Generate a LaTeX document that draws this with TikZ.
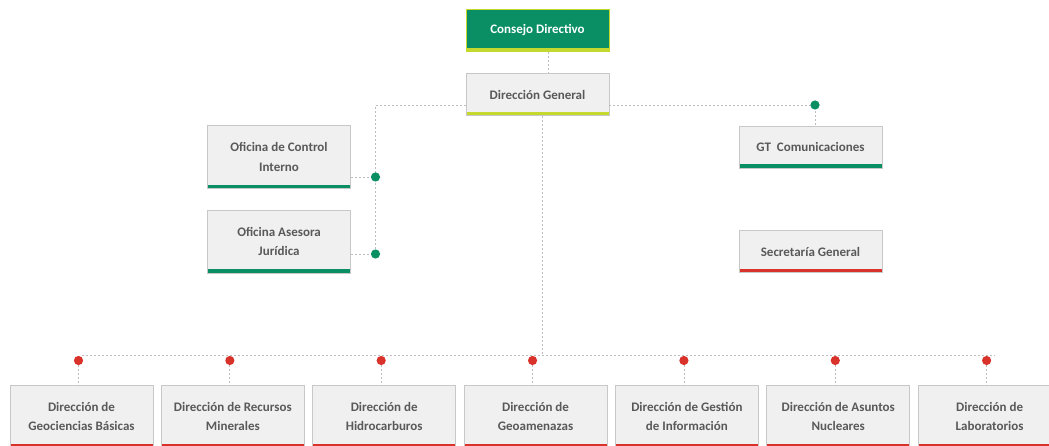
\documentclass[tikz,border=0pt]{standalone}
\usepackage{fontspec}
\setmainfont{Carlito}
\definecolor{sggreen}{HTML}{0A8F64}
\definecolor{sglime}{HTML}{C5D82E}
\definecolor{sgred}{HTML}{D9322A}
\definecolor{boxfill}{HTML}{F0F0F0}
\definecolor{boxline}{HTML}{C8C8C8}
\definecolor{textgray}{HTML}{595959}
\definecolor{linegray}{HTML}{BDBDBD}
\tikzset{
  unit/.style={draw=boxline, fill=boxfill, line width=0.8pt, minimum width=143pt, minimum height=42pt,
    inner sep=2pt, align=center, text=textgray, font=\bfseries\fontsize{13}{19.5}\selectfont,
    path picture={\fill[#1] ([yshift=3.6pt]path picture bounding box.south west) rectangle (path picture bounding box.south east);}},
  tall/.style={minimum height=63pt},
  link/.style={draw=linegray, line width=0.8pt, dash pattern=on 2pt off 2pt},
}
\begin{document}
\begin{tikzpicture}[x=1pt,y=-1pt]
			\useasboundingbox (0,0) rectangle (1049,446);
			% top of the chart
			\node[unit=sglime, fill=sggreen, draw=sglime, text=white] (consejo) at (537.5,30.5) {Consejo Directivo};
			\node[unit=sglime] (general) at (537.5,94.5) {Dirección General};
			\node[unit=sggreen, tall] (control) at (279,157) {Oficina de Control\\Interno};
			\node[unit=sggreen, tall] (juridica) at (279,241.5) {Oficina Asesora\\Jurídica};
			\node[unit=sggreen] (comunica) at (810.5,147) {GT\ \ Comunicaciones};
			\node[unit=sgred] (secretaria) at (810.5,251.5) {Secretaría General};
			% directions
			\node[unit=sgred, tall, minimum height=62pt] (geociencias) at (81.5,416.5) {Dirección de\\Geociencias Básicas};
			\node[unit=sgred, tall, minimum height=62pt] (recursos) at (232.85,416.5) {Dirección de Recursos\\Minerales};
			\node[unit=sgred, tall, minimum height=62pt] (hidrocarburos) at (384.2,416.5) {Dirección de\\Hidrocarburos};
			\node[unit=sgred, tall, minimum height=62pt] (geoamenazas) at (535.55,416.5) {Dirección de\\Geoamenazas};
			\node[unit=sgred, tall, minimum height=62pt] (gestion) at (686.9,416.5) {Dirección de Gestión\\de Información};
			\node[unit=sgred, tall, minimum height=62pt] (nucleares) at (838.25,416.5) {Dirección de Asuntos\\Nucleares};
			\node[unit=sgred, tall, minimum height=62pt] (laboratorios) at (989.6,416.5) {Dirección de\\Laboratorios};
			% joints
			\coordinate (side) at (375.5,105);
			\coordinate (kcom) at (815,105);
			\coordinate (kctl) at (375.5,177);
			\coordinate (kjur) at (375.5,254);
			\coordinate (bus) at (542,355.5);
			\coordinate (busL) at (82,355.5);
			\coordinate (busR) at (995,355.5);
			\coordinate (k1) at (78.5,360.5);
			\coordinate (k2) at (229.85,360.5);
			\coordinate (k3) at (381.2,360.5);
			\coordinate (k4) at (532.55,360.5);
			\coordinate (k5) at (683.9,360.5);
			\coordinate (k6) at (835.25,360.5);
			\coordinate (k7) at (986.6,360.5);
			\draw[link] ([xshift=11pt]consejo.south) -- ([xshift=11pt]general.north);
			\draw[link] (general.west |- side) -- (side) -- (kjur);
			\draw[link] (general.east |- kcom) -- (kcom) -- (comunica.north -| kcom);
			\draw[link] (control.east |- kctl) -- (kctl);
			\draw[link] (juridica.east |- kjur) -- (kjur);
			\draw[link] (general.south -| bus) -- (bus);
			\draw[link] (busL) -- (busR);
			\draw[link] (k1) -- (geociencias.north -| k1);
			\draw[link] (k2) -- (recursos.north -| k2);
			\draw[link] (k3) -- (hidrocarburos.north -| k3);
			\draw[link] (k4) -- (geoamenazas.north -| k4);
			\draw[link] (k5) -- (gestion.north -| k5);
			\draw[link] (k6) -- (nucleares.north -| k6);
			\draw[link] (k7) -- (laboratorios.north -| k7);
			\fill[sggreen] (kcom) circle (4.6pt) (kctl) circle (4.6pt) (kjur) circle (4.6pt);
			\fill[sgred] (k1) circle (4.6pt) (k2) circle (4.6pt) (k3) circle (4.6pt) (k4) circle (4.6pt)
				(k5) circle (4.6pt) (k6) circle (4.6pt) (k7) circle (4.6pt);
		\end{tikzpicture}
\end{document}
